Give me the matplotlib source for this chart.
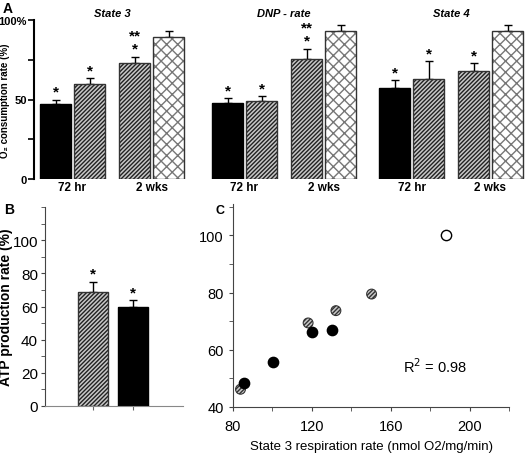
import numpy as np
import matplotlib
matplotlib.use('Agg')
import matplotlib.pyplot as plt
from matplotlib.ticker import MultipleLocator

plt.rcParams['font.family'] = ['Liberation Sans', 'DejaVu Sans']
plt.rcParams['hatch.linewidth'] = 1.0

# Panel A data
groups = ['State 3', 'DNP - rate', 'State 4']
o2_means = [[47, 60, 73, 89], [48, 49, 75.5, 93], [57, 63, 68, 93]]
o2_errs = [[3, 3.5, 4, 4], [3, 3, 6.5, 4], [5, 11, 5, 4]]
o2_stars = [['*', '*', '**\n*', ''], ['*', '*', '**\n*', ''], ['*', '*', '*', '']]
time_labels = ['72 hr', '2 wks']

# Panel B data
atp_means = [68.5, 60]
atp_errs = [6.5, 4]

# Panel C data
black_x = [120.3, 130, 100.3, 85.5]
black_y = [66.4, 66.8, 55.7, 48.3]
hatch_x = [150.3, 132.2, 118.1, 83.8]
hatch_y = [79.5, 73.7, 69.4, 46.2]
open_x = [188.1]
open_y = [100]

# bar styles: black, hatched, hatched, cross-hatched
styles = [
    dict(face='black', hatch=None, hcol='black'),
    dict(face='#c8c8c8', hatch='/' * 8, hcol='#222222'),
    dict(face='#c8c8c8', hatch='/' * 8, hcol='#222222'),
    dict(face='white', hatch='xxx', hcol='#777777'),
]

fig = plt.figure(figsize=(5.26, 4.56), dpi=100)

W, H = 526.0, 456.0


def add_ax(x0, y0, x1, y1):
    # pixel box (top-left origin) -> figure axes
    return fig.add_axes([x0 / W, 1 - y1 / H, (x1 - x0) / W, (y1 - y0) / H])


def draw_bar(ax, x, h, w, st, err, align='edge'):
    ax.bar(x, h, w, align=align, color=st['face'], hatch=st['hatch'],
           edgecolor=st['hcol'], linewidth=0, zorder=2)
    ax.bar(x, h, w, align=align, fill=False, edgecolor='#333333' if st['face'] != 'black' else 'black',
           linewidth=1.0, zorder=3)
    cx = x + w / 2 if align == 'edge' else x
    ax.errorbar(cx, h + err / 2, yerr=err / 2, fmt='none', ecolor='black',
                elinewidth=1.0, capsize=3, capthick=1.0, zorder=1)


# ---- Panel A ----
axA = add_ax(34, 21, 526, 180)
bar_w = 31
group_starts = [6, 178, 345]
bar_offsets = [0, 34, 79, 113]
for g, gname in enumerate(groups):
    xs = [group_starts[g] + o for o in bar_offsets]
    for i in range(4):
        draw_bar(axA, xs[i], o2_means[g][i], bar_w, styles[i], o2_errs[g][i])
        s = o2_stars[g][i]
        if s:
            axA.text(xs[i] + bar_w / 2, o2_means[g][i] + o2_errs[g][i] + 0.5, s,
                     ha='center', va='bottom', fontsize=11, fontweight='bold',
                     linespacing=0.9)
    centre = (xs[0] + xs[3] + bar_w) / 2
    axA.text(centre, 101, gname, ha='center', va='bottom', fontsize=8,
             fontweight='bold', style='italic', clip_on=False)
    axA.text((xs[0] + xs[1] + bar_w) / 2, -1.5, time_labels[0], ha='center', va='top',
             fontsize=8.5, fontweight='bold')
    axA.text((xs[2] + xs[3] + bar_w) / 2, -1.5, time_labels[1], ha='center', va='top',
             fontsize=8.5, fontweight='bold')

axA.set_xlim(0, 492)
axA.set_ylim(0, 100)
for sp in ['top', 'right', 'bottom']:
    axA.spines[sp].set_visible(False)
axA.spines['left'].set_linewidth(1.5)
axA.set_xticks([])
axA.set_yticks([0, 50, 100])
axA.set_yticklabels(['0', '50', '100%'], fontsize=8, fontweight='bold')
axA.yaxis.set_minor_locator(MultipleLocator(25))
axA.tick_params(axis='y', which='both', length=4, width=1.2, pad=1)
axA.set_ylabel('O\u2082 consumption rate (%)', fontsize=7, fontweight='bold')
axA.yaxis.set_label_coords(-(34 - 10) / 492, 0.5)
fig.text(3 / W, 1 - 9 / H, 'A', fontsize=10, fontweight='bold', va='center')

# ---- Panel B ----
axB = add_ax(45, 208, 183, 407)
for i, (m, e) in enumerate(zip(atp_means, atp_errs)):
    st = styles[1] if i == 0 else styles[0]
    draw_bar(axB, i, m, 0.75, st, e, align='center')
    axB.text(i, m + e + 0.5, '*', ha='center', va='bottom', fontsize=11, fontweight='bold')
axB.set_xlim(-1.2, 2.25)
axB.set_ylim(0, 120)
axB.spines['top'].set_visible(False)
axB.spines['right'].set_visible(False)
axB.spines['left'].set_color('#444444')
axB.spines['bottom'].set_color('#888888')
axB.set_xticks([0, 1])
axB.set_xticklabels(['', ''])
axB.set_yticks(np.arange(0, 101, 20))
axB.yaxis.set_minor_locator(MultipleLocator(10))
axB.tick_params(axis='y', which='both', length=3, labelsize=11, color='#444444', pad=2)
axB.tick_params(axis='x', length=3, color='#666666')
axB.set_ylabel('ATP production rate (%)', fontsize=10, fontweight='bold')
axB.yaxis.set_label_coords(-(45 - 13) / 138, 0.5)
fig.text(4 / W, 1 - 210 / H, 'B', fontsize=10, fontweight='bold', va='center')

# ---- Panel C ----
axC = add_ax(233, 205, 509, 408)
axC.scatter(hatch_x, hatch_y, s=50, facecolor='#c8c8c8', edgecolor='#333333',
            hatch='/' * 8, linewidth=0.8, zorder=2)
axC.scatter(black_x, black_y, s=55, color='black', zorder=3)
axC.scatter(open_x, open_y, s=55, facecolor='white', edgecolor='black', linewidth=1.0, zorder=3)
axC.text(166, 54.5, 'R$^2$ = 0.98', fontsize=10.5, va='center')
axC.set_xlim(80, 220)
axC.set_ylim(40, 111)
axC.spines['top'].set_visible(False)
axC.spines['right'].set_visible(False)
axC.spines['left'].set_color('#444444')
axC.spines['bottom'].set_color('#444444')
axC.set_xticks([80, 120, 160, 200])
axC.xaxis.set_minor_locator(MultipleLocator(20))
axC.set_yticks([40, 60, 80, 100])
axC.yaxis.set_minor_locator(MultipleLocator(10))
axC.tick_params(which='both', length=3, labelsize=10.5, color='#444444')
axC.tick_params(axis='x', pad=6)
axC.set_xlabel('State 3 respiration rate (nmol O2/mg/min)', fontsize=9.5, labelpad=5)
fig.text(215 / W, 1 - 211 / H, 'C', fontsize=9, fontweight='bold', va='center')

fig.savefig('out.png', dpi=100)
